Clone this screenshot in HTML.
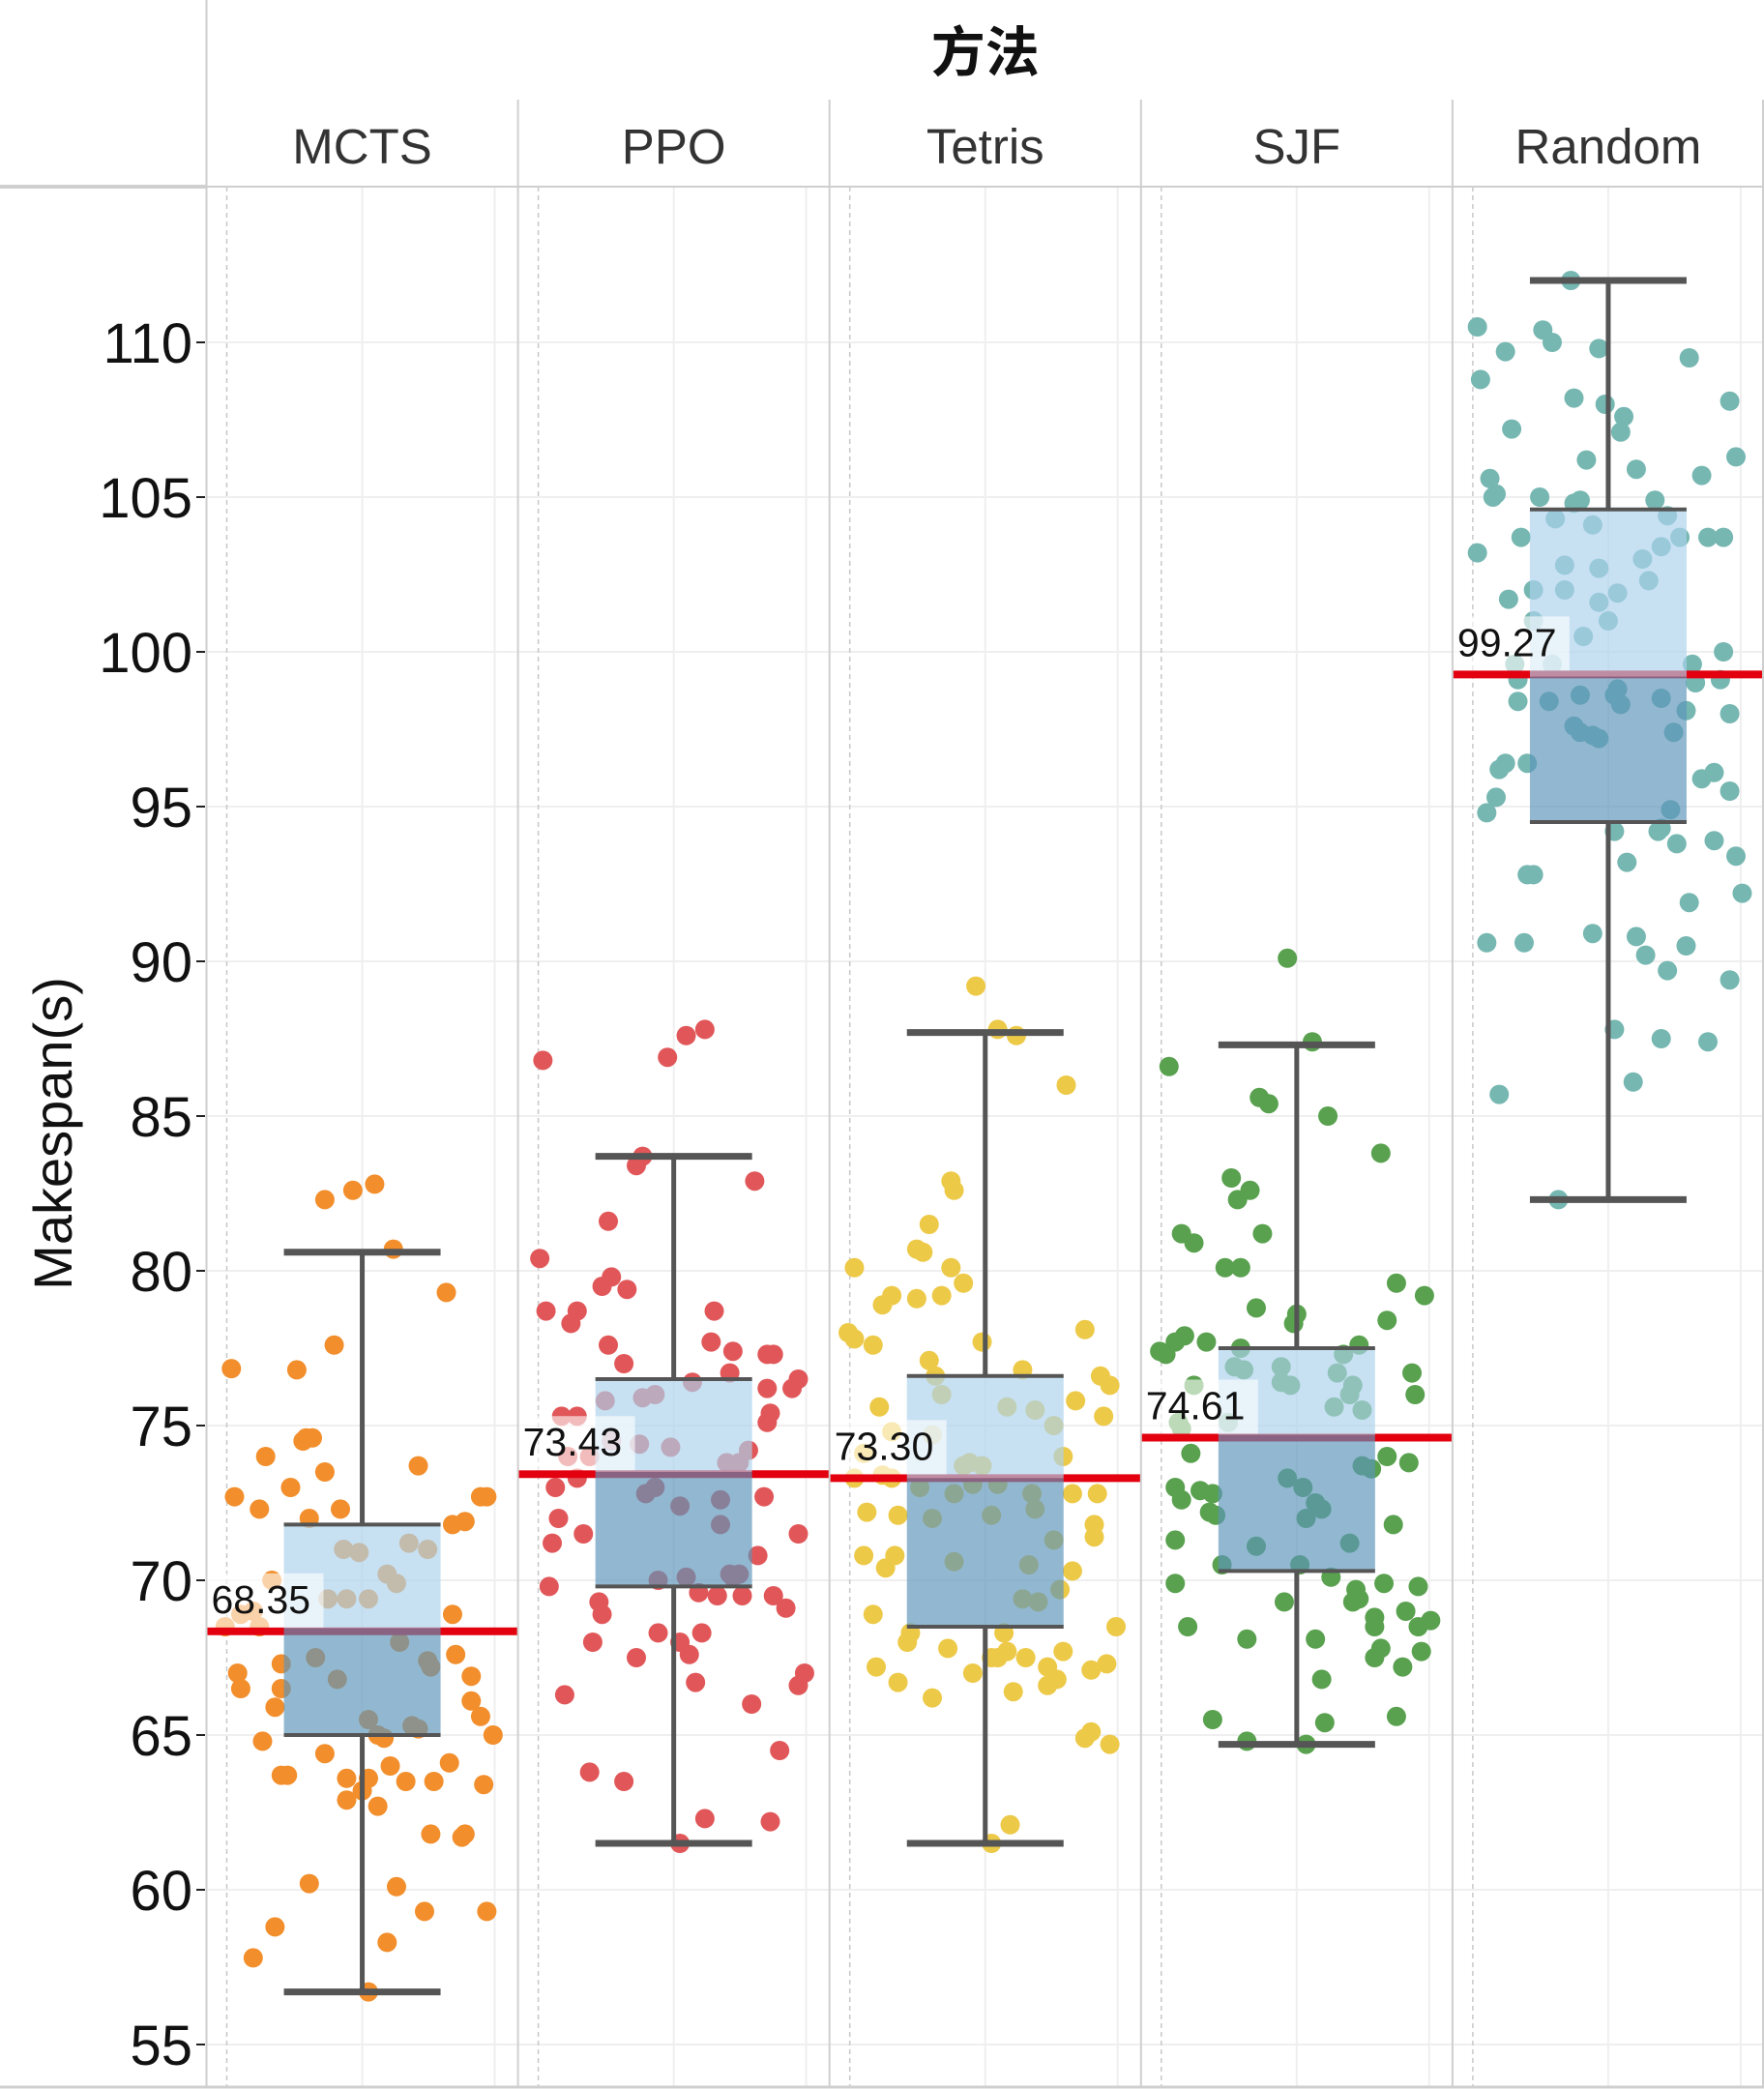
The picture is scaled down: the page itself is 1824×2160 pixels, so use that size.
<!DOCTYPE html>
<html><head><meta charset="utf-8">
<style>
html,body{margin:0;padding:0;background:#fff;}
svg{display:block;font-family:"Liberation Sans","Noto Sans CJK SC",sans-serif;}
</style></head>
<body>
<svg id="chart" width="1824" height="2160" viewBox="0 0 1824 2160" xmlns="http://www.w3.org/2000/svg">
<g id="grid"></g>
<g id="dots"></g>
<g id="boxes"></g>
<g id="axis"></g>
<g id="header"></g>
<text x="0" y="0" transform="translate(74,1172) rotate(-90)" text-anchor="middle" font-size="56" fill="#111">Makespan(s)</text>
</svg>
<script>
const categories = ["MCTS","PPO","Tetris","SJF","Random"];
const colors = ["#f28e2b","#e15759","#edc948","#59a14f","#76b7b2"];
const yTicks = [55,60,65,70,75,80,85,90,95,100,105,110];
const whiskerHigh = [80.6,83.7,87.7,87.3,112.0];
const q3 = [71.8,76.5,76.6,77.5,104.6];
const boxMedian = [68.45,73.5,73.3,74.7,99.2];
const q1 = [65.0,69.8,68.5,70.3,94.5];
const whiskerLow = [56.7,61.5,61.5,64.7,82.3];
const refLine = [68.35,73.43,73.30,74.61,99.27];
const refLabels = ["68.35","73.43","73.30","74.61","99.27"];
// points: [jitter fraction within panel, value]
const ptsMCTS = [[.08,76.84],[.38,82.3],[.47,82.6],[.54,82.8],[.60,80.7],[.77,79.3],[.41,77.6],[.29,76.8],[.32,74.6],[.31,74.5],[.34,74.6],[.19,74.0],[.38,73.5],[.68,73.7],[.27,73.0],[.09,72.7],[.17,72.3],[.43,72.3],[.33,72.0],[.79,71.8],[.83,71.9],[.90,72.7],[.88,72.7],[.44,71.0],[.49,70.9],[.65,71.2],[.71,71.0],[.21,70.0],[.52,69.4],[.45,69.4],[.58,70.2],[.61,69.9],[.39,69.4],[.79,68.9],[.11,68.9],[.15,69.0],[.17,68.5],[.06,68.5],[.35,67.5],[.24,67.3],[.10,67.0],[.11,66.5],[.71,67.4],[.72,67.2],[.80,67.6],[.85,66.9],[.62,68.0],[.42,66.8],[.24,66.5],[.85,66.1],[.88,65.6],[.22,65.9],[.52,65.5],[.66,65.3],[.68,65.2],[.55,65.0],[.57,64.9],[.18,64.8],[.92,65.0],[.38,64.4],[.59,64.0],[.78,64.1],[.26,63.7],[.24,63.7],[.45,63.6],[.52,63.6],[.64,63.5],[.73,63.5],[.89,63.4],[.50,63.2],[.45,62.9],[.55,62.7],[.72,61.8],[.83,61.8],[.82,61.7],[.33,60.2],[.61,60.1],[.70,59.3],[.90,59.3],[.22,58.8],[.15,57.8],[.58,58.3],[.52,56.7]];
const ptsPPO = [[.08,86.8],[.54,87.6],[.60,87.8],[.48,86.9],[.40,83.7],[.38,83.4],[.76,82.9],[.29,81.6],[.07,80.4],[.30,79.8],[.27,79.5],[.35,79.4],[.09,78.7],[.19,78.7],[.17,78.3],[.63,78.7],[.62,77.7],[.29,77.6],[.69,77.4],[.80,77.3],[.82,77.3],[.34,77.0],[.68,76.7],[.56,76.4],[.90,76.5],[.88,76.2],[.80,76.2],[.40,75.9],[.44,76.0],[.28,75.8],[.81,75.4],[.80,75.1],[.14,75.3],[.19,75.3],[.39,74.4],[.49,74.3],[.30,74.5],[.16,74.0],[.23,74.0],[.74,74.2],[.71,73.8],[.67,73.8],[.19,73.3],[.44,73.0],[.41,72.8],[.12,73.0],[.65,72.6],[.52,72.4],[.79,72.7],[.13,72.0],[.21,71.5],[.90,71.5],[.11,71.2],[.65,71.8],[.69,70.1],[.71,70.2],[.68,70.2],[.77,70.8],[.54,70.1],[.45,70.0],[.58,69.6],[.64,69.5],[.72,69.5],[.82,69.5],[.10,69.8],[.26,69.3],[.27,68.9],[.86,69.1],[.45,68.3],[.59,68.3],[.24,68.0],[.52,68.0],[.55,67.6],[.38,67.5],[.92,67.0],[.90,66.6],[.15,66.3],[.57,66.7],[.75,66.0],[.84,64.5],[.23,63.8],[.34,63.5],[.60,62.3],[.81,62.2],[.52,61.5]];
const ptsTetris = [[.47,89.2],[.54,87.8],[.60,87.6],[.76,86.0],[.39,82.9],[.40,82.6],[.32,81.5],[.28,80.7],[.30,80.6],[.08,80.1],[.39,80.1],[.20,79.2],[.17,78.9],[.28,79.1],[.36,79.2],[.43,79.6],[.06,78.0],[.08,77.8],[.14,77.6],[.82,78.1],[.49,77.7],[.32,77.1],[.34,76.6],[.87,76.6],[.62,76.8],[.90,76.3],[.36,76.0],[.16,75.6],[.57,75.6],[.79,75.8],[.88,75.3],[.66,75.5],[.72,75.0],[.20,74.8],[.33,74.7],[.75,74.0],[.11,74.1],[.45,73.8],[.49,73.7],[.43,73.7],[.17,73.4],[.20,73.3],[.08,73.3],[.46,73.1],[.54,73.1],[.29,73.0],[.40,72.8],[.65,72.8],[.78,72.8],[.86,72.8],[.66,72.3],[.12,72.2],[.22,72.1],[.52,72.1],[.33,72.0],[.85,71.8],[.72,71.3],[.85,71.4],[.11,70.8],[.21,70.8],[.40,70.6],[.64,70.5],[.18,70.4],[.78,70.3],[.74,69.7],[.62,69.4],[.67,69.3],[.14,68.9],[.92,68.5],[.56,68.3],[.26,68.3],[.25,68.0],[.38,67.8],[.57,67.7],[.52,67.5],[.54,67.5],[.63,67.5],[.75,67.7],[.70,67.2],[.89,67.3],[.84,67.1],[.15,67.2],[.46,67.0],[.22,66.7],[.73,66.8],[.59,66.4],[.70,66.6],[.33,66.2],[.84,65.1],[.82,64.9],[.90,64.7],[.58,62.1],[.52,61.5]];
const ptsSJF = [[.47,90.1],[.09,86.6],[.55,87.4],[.38,85.6],[.41,85.4],[.60,85.0],[.77,83.8],[.29,83.0],[.35,82.6],[.31,82.3],[.13,81.2],[.17,80.9],[.39,81.2],[.27,80.1],[.32,80.1],[.82,79.6],[.91,79.2],[.50,78.6],[.49,78.3],[.37,78.8],[.79,78.4],[.14,77.9],[.11,77.7],[.21,77.7],[.08,77.3],[.06,77.4],[.32,77.5],[.70,77.6],[.65,77.3],[.33,76.8],[.30,76.9],[.45,76.9],[.87,76.7],[.63,76.7],[.45,76.4],[.48,76.3],[.68,76.3],[.67,76.0],[.88,76.0],[.17,76.3],[.62,75.6],[.71,75.5],[.12,75.1],[.13,74.9],[.28,75.1],[.79,74.0],[.71,73.7],[.86,73.8],[.74,73.6],[.16,74.1],[.47,73.3],[.11,73.0],[.13,72.6],[.19,72.9],[.23,72.8],[.52,73.0],[.56,72.5],[.58,72.3],[.22,72.2],[.24,72.1],[.81,71.8],[.53,72.0],[.11,71.3],[.37,71.1],[.67,71.2],[.26,70.5],[.51,70.5],[.61,70.1],[.11,69.9],[.78,69.9],[.89,69.8],[.69,69.7],[.68,69.3],[.70,69.4],[.46,69.3],[.85,69.0],[.75,68.8],[.15,68.5],[.75,68.5],[.93,68.7],[.89,68.5],[.34,68.1],[.56,68.1],[.77,67.8],[.75,67.5],[.90,67.7],[.84,67.2],[.58,66.8],[.23,65.5],[.59,65.4],[.82,65.6],[.34,64.8],[.53,64.7]];
const ptsRandom = [[.38,112.0],[.08,110.5],[.29,110.4],[.32,110.0],[.17,109.7],[.47,109.8],[.76,109.5],[.09,108.8],[.39,108.2],[.49,108.0],[.89,108.1],[.55,107.6],[.19,107.2],[.54,107.1],[.91,106.3],[.43,106.2],[.59,105.9],[.80,105.7],[.12,105.6],[.14,105.1],[.13,105.0],[.28,105.0],[.39,104.8],[.41,104.9],[.65,104.9],[.33,104.3],[.45,104.1],[.69,104.4],[.22,103.7],[.73,103.7],[.82,103.7],[.87,103.7],[.67,103.4],[.08,103.2],[.61,103.0],[.47,102.7],[.36,102.8],[.63,102.3],[.26,102.0],[.36,102.0],[.53,101.9],[.18,101.7],[.47,101.6],[.50,101.0],[.26,101.0],[.42,100.5],[.87,100.0],[.20,99.6],[.32,99.6],[.77,99.6],[.21,99.1],[.86,99.1],[.78,99.0],[.53,98.8],[.41,98.6],[.52,98.6],[.67,98.5],[.21,98.4],[.31,98.4],[.54,98.3],[.75,98.1],[.89,98.0],[.39,97.6],[.41,97.4],[.45,97.3],[.47,97.2],[.71,97.4],[.17,96.4],[.15,96.2],[.24,96.4],[.80,95.9],[.84,96.1],[.89,95.5],[.14,95.3],[.11,94.8],[.70,94.9],[.67,94.3],[.52,94.2],[.66,94.2],[.84,93.9],[.72,93.8],[.91,93.4],[.56,93.2],[.24,92.8],[.26,92.8],[.93,92.2],[.76,91.9],[.45,90.9],[.59,90.8],[.11,90.6],[.23,90.6],[.75,90.5],[.62,90.2],[.69,89.7],[.89,89.4],[.52,87.8],[.67,87.5],[.82,87.4],[.58,86.1],[.15,85.7],[.34,82.3]];
const points = [ptsMCTS, ptsPPO, ptsTetris, ptsSJF, ptsRandom];

const NS = "http://www.w3.org/2000/svg";
const plotLeft = 213.5, plotRight = 1824, plotTop = 193, plotBottom = 2158;
const panelW = (plotRight - plotLeft) / categories.length;
function yScale(v){ return 2114 - (v - 55) * 32; }
function panelX(i){ return plotLeft + i * panelW; }
function mk(tag, attrs, parent){ const e = document.createElementNS(NS, tag); for (const k in attrs) e.setAttribute(k, attrs[k]); parent.appendChild(e); return e; }

const grid = document.getElementById('grid');
const dots = document.getElementById('dots');
const boxes = document.getElementById('boxes');
const axis = document.getElementById('axis');
const header = document.getElementById('header');

yTicks.forEach(t => {
  const y = yScale(t);
  const g = mk('line', {x1: plotLeft, x2: plotRight, y1: y, y2: y, stroke: '#efefef', 'stroke-width': 2}, grid);
  
  
  const tk = mk('line', {x1: 203, x2: 212, y1: y, y2: y, stroke: '#222', 'stroke-width': 2}, axis);
  
  
  const lb = mk('text', {x: 199, y: y + 21, 'text-anchor': 'end', 'font-size': 58, fill: '#111'}, axis);
  lb.textContent = t;
  
  
});

categories.forEach((c, i) => {
  const L = panelX(i), cx = L + panelW / 2;
  const dl = mk('line', {x1: L + 21, x2: L + 21, y1: plotTop, y2: plotBottom, stroke: '#c8c8c8', 'stroke-width': 1.5, 'stroke-dasharray': '5,4'}, grid);
  
  
  [cx, L + 298].forEach(x => {
    const v = mk('line', {x1: x, x2: x, y1: plotTop, y2: plotBottom, stroke: '#efefef', 'stroke-width': 2}, grid);
    
    
  });
  const sep = mk('line', {x1: L, x2: L, y1: 103, y2: plotBottom, stroke: '#cfcfcf', 'stroke-width': 2}, header);
  
  
  const hl = mk('text', {x: cx, y: 169, 'text-anchor': 'middle', 'font-size': 51, fill: '#333'}, header);
  hl.textContent = c;
  
  

  points[i].forEach(p => {
    const d = mk('circle', {cx: L + p[0] * panelW, cy: yScale(p[1]), r: 10, fill: colors[i]}, dots);
    
    
  });

  const rl = mk('line', {x1: L, x2: L + panelW, y1: yScale(refLine[i]), y2: yScale(refLine[i]), stroke: '#e3000f', 'stroke-width': 8}, boxes);
  
  

  const bx = cx - 81, bw = 162;
  const up = mk('rect', {x: bx, y: yScale(q3[i]), width: bw, height: yScale(boxMedian[i]) - yScale(q3[i]), fill: 'rgb(171,210,237)', 'fill-opacity': 0.67}, boxes);
  
  
  const lo = mk('rect', {x: bx, y: yScale(boxMedian[i]), width: bw, height: yScale(q1[i]) - yScale(boxMedian[i]), fill: 'rgb(92,149,186)', 'fill-opacity': 0.665}, boxes);
  
  

  const ly = yScale(refLine[i]);
  const lbg = mk('rect', {x: L + 1, y: ly - 60, width: 120, height: 56, fill: '#fff', 'fill-opacity': 0.6}, boxes);
  
  
  const lt = mk('text', {x: L + 5, y: ly - 19, 'font-size': 41, fill: '#111'}, boxes);
  lt.textContent = refLabels[i];
  
  

  const w1 = mk('line', {x1: cx, x2: cx, y1: yScale(whiskerHigh[i]), y2: yScale(q3[i]), stroke: '#555', 'stroke-width': 5}, boxes);
  
  
  const w2 = mk('line', {x1: cx, x2: cx, y1: yScale(q1[i]), y2: yScale(whiskerLow[i]), stroke: '#555', 'stroke-width': 5}, boxes);
  
  
  [whiskerHigh[i], q3[i], q1[i], whiskerLow[i]].forEach((v, k) => {
    const cap = mk('line', {x1: bx, x2: bx + bw, y1: yScale(v), y2: yScale(v), stroke: '#555', 'stroke-width': (k === 0 || k === 3) ? 7 : 4}, boxes);
    
    
  });
});

const ll = mk('line', {x1: plotLeft, x2: plotLeft, y1: 0, y2: plotBottom, stroke: '#cfcfcf', 'stroke-width': 2}, header);


const hb = mk('line', {x1: 0, x2: 1824, y1: 193, y2: 193, stroke: '#cfcfcf', 'stroke-width': 2}, header);


const hb2 = mk('line', {x1: 0, x2: plotLeft, y1: 193, y2: 193, stroke: '#cfcfcf', 'stroke-width': 4}, header);


const bb = mk('line', {x1: 0, x2: 1824, y1: 2158, y2: 2158, stroke: '#cfcfcf', 'stroke-width': 3}, header);


const rb = mk('line', {x1: 1823, x2: 1823, y1: 103, y2: plotBottom, stroke: '#cfcfcf', 'stroke-width': 2}, header);


const tt = mk('text', {x: (plotLeft + plotRight) / 2, y: 74, 'text-anchor': 'middle', 'font-size': 56, 'font-weight': 'bold', fill: '#111'}, header);
tt.textContent = '方法';


</script>
</body></html>
